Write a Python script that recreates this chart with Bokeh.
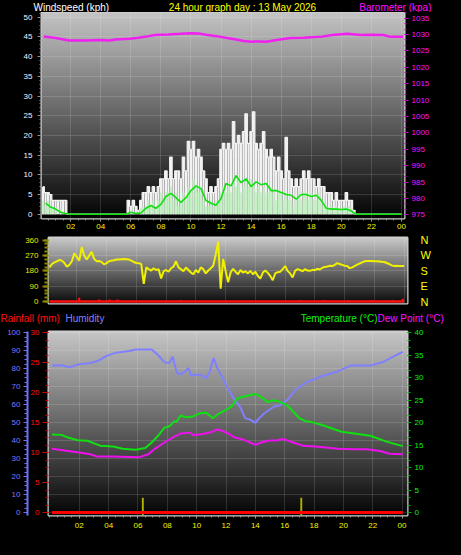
import numpy as np
from bokeh.plotting import figure
from bokeh.models import (Range1d, LinearAxis, Grid, FixedTicker, SingleIntervalTicker,
                          CustomJSTickFormatter, Title, GlobalInlineStyleSheet)
from bokeh.layouts import column, row
from bokeh.embed import file_html
from bokeh.resources import INLINE

FONT = "Liberation Sans"

# ------------------------------------------------------------------ data
title_wind = "Windspeed (kph)"
title_day = "24 hour graph day : 13 May 2026"
title_baro = "Barometer (kpa)"
title_rain = "Rainfall (mm)"
title_hum = "Humidity"
title_temp = "Temperature (°C)"
title_dew = "Dew Point (°C)"

x_tick_hours = [2, 4, 6, 8, 10, 12, 14, 16, 18, 20, 22, 24]
x_minor_hours = [k * 0.5 for k in range(0, 50)]
compass_ticks = [0, 90, 180, 270, 360]
compass_labels = ["N", "E", "S", "W", "N"]

# 10-minute samples 00:10 .. 24:00
hours_10min = [round((i + 1) / 6, 4) for i in range(144)]
wind_gust = [
    7, 5.5, 5.5, 5, 3.5, 3.5,
    3.5, 3.5, 3.5, 3.5, 0, 0,
    0, 0, 0, 0, 0, 0,
    0, 0, 0, 0, 0, 0,
    0, 0, 0, 0, 0, 0,
    0, 0, 0, 0, 3.5, 2,
    3.5, 2, 1, 3.5, 5.5, 5.5,
    7, 5.5, 7, 5.5, 7, 9,
    9, 11, 9, 14.5, 9, 11,
    11, 9, 14.5, 11, 18.5, 16.5,
    18.5, 14.5, 16.5, 14.5, 11, 9,
    5.5, 7, 5.5, 7, 9, 16.5,
    18, 16.5, 18, 16.5, 23.5, 18,
    20, 18, 21, 25.5, 18, 21,
    26, 18, 16.5, 18, 21, 16.5,
    14.5, 16.5, 14.5, 11, 14.5, 11,
    9, 19.5, 11, 9, 7, 9,
    7, 9, 11, 9, 11, 9,
    9, 7, 9, 7, 7, 5.5,
    5.5, 5.5, 3.5, 5.5, 3.5, 3.5,
    3.5, 5.5, 3.5, 3.5, 1, 0,
    0, 0, 0, 0, 0, 0,
    0, 0, 0, 0, 0, 0,
    0, 0, 0, 0, 0, 0,
]
wind_speed = [
    3.5, 2, 3.5, 1.5, 1.5, 1.5,
    0, 1.5, 0, 0, 0, 0,
    0, 0, 0, 0, 0, 0,
    0, 0, 0, 0, 0, 0,
    0, 0, 0, 0, 0, 0,
    0, 0, 0, 0, 0.5, 0,
    0.5, 0, 0, 1.5, 1.5, 2,
    3.5, 2, 3.5, 2, 3.5, 5.5,
    3.5, 5.5, 5.5, 7, 3.5, 5.5,
    2, 3.5, 5.5, 3.5, 7, 5.5,
    9, 7, 5.5, 7, 3.5, 2,
    2, 3.5, 2, 3.5, 3.5, 5.5,
    7, 5.5, 7, 5.5, 9, 7,
    9, 5.5, 7, 9, 7, 9,
    7, 5.5, 7, 5.5, 7, 5.5,
    5.5, 7, 5.5, 3.5, 5.5, 5.5,
    3.5, 5.5, 3.5, 3.5, 2, 3.5,
    5.5, 3.5, 5.5, 5.5, 3.5, 5.5,
    3.5, 3.5, 5.5, 3.5, 2, 2,
    1.5, 2, 1.5, 2, 1.5, 1.5,
    2, 1.5, 2, 1.5, 0.5, 0,
    0, 0, 0, 0, 0, 0,
    0, 0, 0, 0, 0, 0,
    0, 0, 0, 0, 0, 0,
]
wind_dir = [
    200, 220, 230, 236, 244, 240,
    226, 205, 215, 236, 282, 262,
    240, 320, 270, 246, 270, 292,
    250, 236, 238, 232, 218, 225,
    236, 240, 242, 246, 246, 248,
    250, 248, 246, 240, 232, 226,
    224, 220, 104, 200, 190, 182,
    195, 185, 190, 135, 178, 185,
    175, 195, 205, 236, 200, 190,
    178, 200, 185, 170, 160, 185,
    170, 200, 190, 165, 182, 195,
    210, 275, 351, 76, 250, 180,
    114, 170, 192, 175, 160, 185,
    170, 178, 165, 180, 160, 175,
    150, 135, 170, 182, 168, 150,
    125, 165, 172, 175, 190, 208,
    180, 165, 142, 180, 190, 185,
    178, 190, 182, 180, 186, 184,
    192, 188, 198, 203, 205, 210,
    208, 215, 225, 220, 215, 210,
    208, 196, 200, 208, 216, 222,
    230, 236, 238, 238, 237, 236,
    236, 235, 233, 232, 226, 220,
    212, 208, 210, 208, 208, 208,
]

# 20-minute average wind 00:20 .. 24:00
hours_20min = [round((i + 1) / 3, 4) for i in range(72)]
wind_avg = [
    2.8, 1.8, 1.3, 0.5, 0.2, 0, 0, 0, 0, 0, 0, 0,
    0, 0, 0, 0, 0, 0.5, 0.2, 0.3, 1.5, 2.2, 1.5, 2.5,
    4.5, 5.3, 4.2, 3.0, 4.2, 6.0, 7.2, 6.5, 3.5, 2.8, 2.3, 4.0,
    7.8, 7.2, 9.8, 8.0, 9.0, 7.0, 8.2, 7.5, 7.8, 6.0, 6.0, 5.5,
    5.0, 4.8, 3.8, 5.0, 5.0, 4.5, 4.8, 3.5, 1.5, 1.3, 1.3, 1.2,
    1.3, 0.8, 0, 0, 0, 0, 0, 0, 0, 0, 0, 0,
]

baro_hours = [0.2, 1.0, 1.9, 3.0, 4.0, 4.6, 5.0, 5.9, 6.5, 7.2, 7.6, 8.5, 9.3, 10.0,
              10.5, 11.0, 11.7, 12.3, 13.0, 13.5, 14.0, 14.5, 15.0, 15.7, 16.6, 17.5,
              18.7, 19.4, 20.4, 21.3, 22.0, 22.8, 23.2, 24.1]
baro_hpa = [1029.4, 1028.9, 1028.2, 1028.2, 1028.3, 1028.2, 1028.5, 1028.7, 1029.0,
            1029.5, 1029.85, 1030.0, 1030.2, 1030.4, 1030.3, 1029.9, 1029.5, 1029.0,
            1028.5, 1028.0, 1027.8, 1027.9, 1027.8, 1028.3, 1028.9, 1029.0, 1029.35,
            1029.85, 1030.2, 1029.85, 1029.9, 1029.85, 1029.35, 1029.35]

# wind-direction panel: small red marks along the base line
dir_red_hours = [2.16, 3.5, 4.21, 4.73, 9.0, 17.05, 18.6, 20.2, 21.8, 23.2, 23.9]
dir_red_vals = [22, 12, 12, 12, 10, 10, 10, 8, 10, 10, 16]

temp_hours = [0.14, 0.8, 1.23, 1.9, 2.55, 3.42, 4.3, 4.96, 5.84, 6.5, 6.93, 7.37, 7.8,
              8.14, 8.47, 8.65, 8.9, 9.3, 9.76, 10.2, 10.65, 11.1, 11.54, 11.97, 12.4,
              12.75, 13.3, 14.0, 14.4, 14.85, 15.26, 15.7, 16.14, 16.58, 17.0, 17.46,
              17.67, 18.55, 19.87, 20.75, 21.84, 22.94, 24.04]
temp_c = [17.4, 17.3, 16.7, 16.1, 16.0, 14.9, 14.7, 14.2, 14.0, 14.4, 15.6, 17.1, 18.9,
          19.2, 20.3, 20.3, 21.6, 21.2, 21.4, 22.1, 22.2, 21.0, 22.1, 22.8, 23.7,
          25.4, 25.9, 26.4, 25.7, 24.6, 25.0, 24.6, 23.9, 22.5, 21.0, 20.3,
          20.3, 19.5, 18.0, 17.6, 17.1, 15.8, 14.8]

dew_hours = [0.14, 1.0, 2.1, 2.76, 3.2, 4.3, 5.4, 6.05, 6.71, 7.15, 7.8, 8.47, 8.9, 9.56,
             9.76, 10.4, 11.1, 11.4, 11.76, 12.2, 12.6, 13.07, 13.5, 14.0, 14.4, 14.85,
             15.5, 15.9, 16.58, 17.24, 18.1, 19.65, 20.75, 21.6, 22.5, 23.15, 24.04]
dew_c = [14.2, 13.8, 13.3, 13.0, 12.5, 12.5, 12.4, 12.3, 13.0, 14.2, 15.6, 16.9, 17.6, 17.8,
         17.2, 17.5, 18.0, 18.5, 18.2, 17.5, 16.7, 16.4, 15.8, 15.1, 15.6, 16.0,
         16.1, 16.4, 15.6, 14.9, 14.7, 14.2, 14.1, 14.1, 13.7, 13.1, 13.0]

hum_hours = [0.14, 0.8, 1.34, 1.89, 2.76, 3.2, 3.86, 4.5, 5.4, 5.84, 6.93, 7.37, 7.8, 8.14,
             8.36, 8.65, 8.9, 9.24, 9.45, 9.6, 10.2, 10.65, 10.9, 11.15, 11.4, 11.76,
             12.2, 12.6, 12.96, 13.3, 13.7, 14.0, 14.2, 14.6, 15.26, 15.7, 16.14, 16.8,
             17.46, 18.55, 19.65, 20.5, 21.84, 22.7, 23.4, 24.04]
hum_pct = [81.8, 82.0, 80.9, 82.4, 83.3, 84.2, 87.2, 89.0, 89.9, 90.8, 90.8, 87.7, 83.6, 83.3,
           86.8, 77.8, 76.9, 78.7, 80.5, 76.5, 76.9, 74.8, 78.7, 86.0, 80.5, 75.1,
           67.9, 62.5, 58.9, 52.6, 51.5, 49.9, 52.0, 55.3, 58.9, 59.8, 62.5, 68.8,
           72.4, 76.0, 78.7, 81.8, 81.8, 83.8, 86.8, 89.5]

rain_hours = [0.14, 24.04]
rain_mm = [0, 0]

marker_hours = [6.33, 17.13]
marker_mm = [2.5, 2.5]

# ------------------------------------------------------------------ helpers
W = 445
BLACK_BG = {"background-color": "#000000"}
hour_fmt_code = "const h = Math.round(tick) % 24; return (h < 10 ? '0' : '') + h;"


def make_fig(height, xr, yr, ml, mr, mt, mb, extra=None):
    p = figure(width=W, height=height, x_range=xr, y_range=yr,
               x_axis_type=None, y_axis_type=None,
               toolbar_location=None, output_backend="svg", frame_align=False,
               min_border_left=ml, min_border_right=mr,
               min_border_top=mt, min_border_bottom=mb,
               background_fill_color="black", border_fill_color="black",
               outline_line_color="#d0d0d0", outline_line_width=2,
               styles=BLACK_BG)
    if extra:
        p.extra_y_ranges = extra
    return p


def head_fig(width, height, text, color, align, offset, standoff):
    # a thin strip carrying one header text as its title
    t = Title(text=text, align=align, offset=offset, text_color=color, text_font=FONT,
              text_font_size="10px", text_font_style="normal", standoff=standoff,
              vertical_align="bottom")
    return figure(width=width, height=height, title=t, x_range=Range1d(0, 1),
                  y_range=Range1d(0, 1), x_axis_type=None, y_axis_type=None,
                  toolbar_location=None, output_backend="svg", min_border=0,
                  frame_align=False, background_fill_color="black",
                  border_fill_color="black", outline_line_color=None,
                  styles=BLACK_BG)


def add_gradient(p, top, bottom):
    n = 220
    levels = np.linspace(bottom, top, n).astype(np.uint8)
    img = np.zeros((n, 1), dtype=np.uint32)
    v = img.view(np.uint8).reshape(n, 1, 4)
    v[:, 0, 0] = levels
    v[:, 0, 1] = levels
    v[:, 0, 2] = levels
    v[:, 0, 3] = 255
    xr, yr = p.x_range, p.y_range
    p.image_rgba(image=[img], x=xr.start, y=yr.start, dw=xr.end - xr.start,
                 dh=yr.end - yr.start, level="image")


def add_grid(p, dim, ticker):
    p.add_layout(Grid(dimension=dim, ticker=ticker, grid_line_color="white",
                      grid_line_alpha=0.28, grid_line_dash="1 1", grid_line_width=1))


def style_axis(ax, color, tick_color, out, minor_out, standoff, size="8px", tick_w=1):
    ax.major_label_text_color = color
    ax.major_label_text_font = FONT
    ax.major_label_text_font_size = size
    ax.major_tick_line_color = tick_color
    ax.minor_tick_line_color = tick_color
    ax.major_tick_line_width = tick_w
    ax.minor_tick_line_width = tick_w
    ax.major_tick_in = 0
    ax.minor_tick_in = 0
    ax.major_tick_out = out
    ax.minor_tick_out = minor_out
    ax.major_label_standoff = standoff
    ax.axis_line_color = None


def hour_axis(standoff):
    ax = LinearAxis(ticker=FixedTicker(ticks=x_tick_hours, minor_ticks=x_minor_hours),
                    formatter=CustomJSTickFormatter(code=hour_fmt_code))
    style_axis(ax, "#f4f400", "#9a9a9a", 3, 2, standoff)
    return ax


# ------------------------------------------------------------------ header 1
head1 = row(
    head_fig(146, 12, title_wind, "#ffffff", "left", 33, 0),
    head_fig(192, 12, title_day, "#ffff00", "center", 0, 0),
    head_fig(107, 12, title_baro, "#ff10ff", "right", 14, 0),
    styles=BLACK_BG,
)

# ------------------------------------------------------------------ panel 1: wind + barometer
p1 = make_fig(221, Range1d(0.06, 24.2), Range1d(-1.09, 51.22), 41, 41, 0, 15,
              extra={"baro": Range1d(973.87, 1036.71)})
add_gradient(p1, 196, 4)
add_grid(p1, 0, FixedTicker(ticks=x_tick_hours))
add_grid(p1, 1, SingleIntervalTicker(interval=5))

ax = hour_axis(2)
p1.add_layout(ax, "below")
ax = LinearAxis(ticker=SingleIntervalTicker(interval=5, num_minor_ticks=5))
style_axis(ax, "#f2f6ff", "#8c8c8c", 4, 2, 5)
p1.add_layout(ax, "left")
ax = LinearAxis(y_range_name="baro", ticker=SingleIntervalTicker(interval=5, num_minor_ticks=3))
style_axis(ax, "#ff10ff", "#c000c0", 4, 2, 3)
p1.add_layout(ax, "right")

p1.vbar(x=hours_10min, top=wind_gust, bottom=0, width=0.155,
        fill_color="#f2f2f2", line_color=None)
p1.step(hours_10min, wind_gust, mode="center", line_color="#f2f2f2", line_width=1.2)
p1.vbar(x=hours_10min, top=wind_speed, bottom=0, width=0.14,
        fill_color="#c4f2c4", line_color=None)
p1.line(hours_20min, wind_avg, line_color="#10e010", line_width=1.6)
p1.line(baro_hours, baro_hpa, y_range_name="baro", line_color="#f020f0", line_width=2.5)

# ------------------------------------------------------------------ panel 2: wind direction
p2 = make_fig(76, Range1d(0.1, 24.22), Range1d(-11.1, 375.2), 48, 38, 4, 6)
add_gradient(p2, 202, 10)
add_grid(p2, 0, FixedTicker(ticks=x_tick_hours))
add_grid(p2, 1, FixedTicker(ticks=[90, 180, 270]))

ax = LinearAxis(ticker=FixedTicker(ticks=compass_ticks,
                                   minor_ticks=[22.5 * k for k in range(17)]))
style_axis(ax, "#e8e800", "#8a8a00", 6, 4, 4, tick_w=2)
p2.add_layout(ax, "left")
ax = LinearAxis(ticker=FixedTicker(ticks=compass_ticks),
                formatter=CustomJSTickFormatter(
                    args=dict(labels=compass_labels),
                    code="return labels[Math.round(tick / 90)];"))
style_axis(ax, "#ffff00", None, 0, 0, 13, size="11px")
p2.add_layout(ax, "right")

p2.vbar(x=dir_red_hours, top=dir_red_vals, bottom=0, width=0.15,
        fill_color="#ff1010", line_color=None)
p2.line([hours_10min[0], hours_10min[-1]], [0, 0], line_color="#ff1010", line_width=2.5)
p2.line(hours_10min, wind_dir, line_color="#f0f000", line_width=2)

# ------------------------------------------------------------------ header 2
head2 = row(
    head_fig(64, 16, title_rain, "#ff1010", "left", 0, 1.5),
    head_fig(136, 16, title_hum, "#8080ff", "left", 1, 1.5),
    head_fig(177, 16, title_temp, "#10f010", "right", 0, 1.5),
    head_fig(68, 16, title_dew, "#ff10ff", "left", 0, 1.5),
    styles=BLACK_BG,
)

# ------------------------------------------------------------------ panel 3: temp / humidity / rain
p3 = make_fig(214, Range1d(-0.10, 24.37), Range1d(-1.61, 100.78), 48, 38, 6, 24,
              extra={"rain": Range1d(-0.484, 30.234), "temp": Range1d(-0.646, 40.31)})
add_gradient(p3, 198, 5)
add_grid(p3, 0, FixedTicker(ticks=x_tick_hours))
add_grid(p3, 1, SingleIntervalTicker(interval=10))

ax = hour_axis(4)
p3.add_layout(ax, "below")
ax = LinearAxis(y_range_name="rain", ticker=SingleIntervalTicker(interval=5, num_minor_ticks=4))
style_axis(ax, "#ff1010", "#d00000", 6, 3, 3)
p3.add_layout(ax, "left")
ax = LinearAxis(ticker=SingleIntervalTicker(interval=10, num_minor_ticks=4))
style_axis(ax, "#7a7aff", "#7070ff", 4, 3, 3)
ax.axis_line_color = "#7070ff"
ax.axis_line_width = 2
p3.add_layout(ax, "left")
ax = LinearAxis(y_range_name="temp", ticker=SingleIntervalTicker(interval=5, num_minor_ticks=3))
style_axis(ax, "#10f010", "#00b000", 4, 3, 3)
p3.add_layout(ax, "right")

p3.line(hum_hours, hum_pct, line_color="#8080ff", line_width=2)
p3.line(temp_hours, temp_c, y_range_name="temp", line_color="#10e010", line_width=2)
p3.line(dew_hours, dew_c, y_range_name="temp", line_color="#ee10ee", line_width=2)
p3.vbar(x=marker_hours, top=marker_mm, bottom=-0.484, width=0.13, y_range_name="rain",
        fill_color="#b0b000", line_color=None)
p3.line(rain_hours, rain_mm, y_range_name="rain", line_color="#ff0000", line_width=3)

p = column(head1, p1, p2, head2, p3, styles=BLACK_BG,
           stylesheets=[GlobalInlineStyleSheet(css="html, body { background-color: #000000; }")])
open("out.html", "w").write(file_html(p, INLINE))
